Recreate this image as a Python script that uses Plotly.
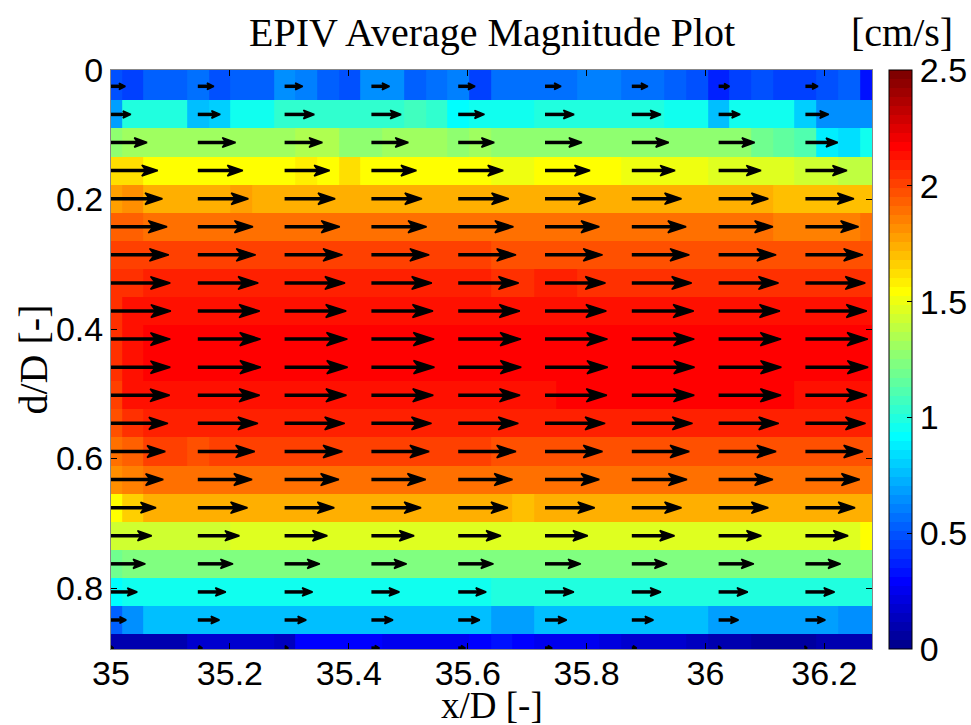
import numpy as np
import plotly.graph_objects as go

# ---------------- data ----------------
X_GRID = [35.0000, 35.0365, 35.0730, 35.1095, 35.1460, 35.1825, 35.2190, 35.2555, 35.2920,
          35.3285, 35.3650, 35.4015, 35.4380, 35.4745, 35.5110, 35.5475, 35.5840, 35.6205,
          35.6570, 35.6935, 35.7300, 35.7665, 35.8030, 35.8395, 35.8760, 35.9125, 35.9490,
          35.9855, 36.0220, 36.0585, 36.0950, 36.1315, 36.1680, 36.2045, 36.2410, 36.2775]

Y_GRID = [0.0252, 0.0686, 0.1119, 0.1553, 0.1987, 0.2420, 0.2854, 0.3288, 0.3722, 0.4155,
          0.4589, 0.5023, 0.5456, 0.5890, 0.6324, 0.6758, 0.7191, 0.7625, 0.8059, 0.8492, 0.8926]

MAG = [
 [0.50,0.44,0.53,0.53,0.56,0.50,0.53,0.53,0.63,0.59,0.53,0.50,0.63,0.63,0.53,0.56,0.59,0.44,
  0.56,0.56,0.56,0.56,0.59,0.59,0.56,0.56,0.53,0.50,0.38,0.44,0.50,0.44,0.44,0.50,0.53,0.34],
 [0.69,1.00,1.00,1.00,0.78,0.81,0.94,0.94,1.03,1.03,1.03,1.03,1.03,1.03,1.09,1.03,0.91,0.94,
  0.94,0.97,1.01,1.01,1.01,1.01,1.01,1.00,0.97,0.94,0.75,0.94,0.94,0.94,0.81,0.66,0.66,0.66],
 [1.25,1.31,1.31,1.31,1.31,1.31,1.31,1.31,1.31,1.34,1.34,1.28,1.28,1.31,1.31,1.31,1.25,1.31,
  1.28,1.28,1.28,1.28,1.28,1.28,1.28,1.28,1.28,1.25,1.25,1.25,1.20,1.16,1.12,0.86,0.84,0.94],
 [1.62,1.62,1.56,1.56,1.56,1.56,1.56,1.56,1.56,1.59,1.56,1.62,1.56,1.56,1.56,1.56,1.56,1.56,
  1.50,1.50,1.56,1.56,1.56,1.53,1.50,1.50,1.50,1.50,1.47,1.47,1.47,1.47,1.44,1.41,1.38,1.38],
 [1.78,1.81,1.75,1.75,1.75,1.75,1.78,1.75,1.75,1.75,1.75,1.75,1.75,1.75,1.75,1.75,1.75,1.75,
  1.75,1.75,1.75,1.72,1.72,1.72,1.72,1.72,1.72,1.72,1.72,1.72,1.72,1.68,1.68,1.68,1.68,1.68],
 [1.94,1.94,1.91,1.91,1.91,1.91,1.91,1.91,1.91,1.91,1.91,1.91,1.91,1.91,1.91,1.91,1.91,1.91,
  1.88,1.88,1.88,1.88,1.88,1.88,1.88,1.88,1.88,1.88,1.88,1.88,1.88,1.84,1.84,1.84,1.84,1.91],
 [2.00,2.03,2.00,2.00,2.00,2.00,2.00,2.00,2.00,2.00,2.00,2.00,2.00,2.00,2.00,2.00,2.00,2.00,
  1.99,1.99,1.99,1.99,1.99,1.99,1.99,1.99,1.99,1.99,1.99,1.99,1.99,1.99,1.99,1.97,1.97,1.99],
 [2.05,2.07,2.09,2.09,2.09,2.09,2.09,2.09,2.09,2.09,2.09,2.09,2.09,2.09,2.09,2.09,2.09,2.09,
  2.07,2.07,2.09,2.09,2.07,2.07,2.07,2.07,2.07,2.07,2.07,2.07,2.07,2.07,2.07,2.07,2.07,2.07],
 [2.07,2.11,2.14,2.14,2.14,2.14,2.13,2.13,2.13,2.13,2.13,2.13,2.13,2.13,2.13,2.13,2.13,2.13,
  2.12,2.12,2.12,2.14,2.14,2.14,2.14,2.12,2.12,2.12,2.12,2.12,2.12,2.12,2.12,2.12,2.12,2.12],
 [2.05,2.13,2.17,2.17,2.17,2.17,2.17,2.17,2.17,2.17,2.17,2.17,2.17,2.17,2.17,2.17,2.17,2.17,
  2.16,2.16,2.16,2.17,2.17,2.17,2.16,2.16,2.16,2.16,2.16,2.16,2.16,2.16,2.16,2.16,2.16,2.16],
 [2.05,2.13,2.18,2.18,2.18,2.18,2.18,2.18,2.18,2.18,2.18,2.18,2.18,2.18,2.18,2.18,2.18,2.18,
  2.17,2.17,2.17,2.17,2.17,2.17,2.17,2.17,2.17,2.17,2.17,2.17,2.17,2.17,2.17,2.17,2.17,2.17],
 [2.03,2.11,2.14,2.14,2.14,2.14,2.14,2.14,2.14,2.14,2.14,2.14,2.14,2.14,2.14,2.14,2.14,2.14,
  2.14,2.14,2.14,2.16,2.16,2.16,2.16,2.16,2.16,2.16,2.16,2.16,2.16,2.16,2.13,2.13,2.13,2.13],
 [1.97,2.05,2.08,2.08,2.08,2.08,2.08,2.08,2.08,2.08,2.08,2.08,2.08,2.08,2.08,2.08,2.08,2.08,
  2.08,2.08,2.08,2.08,2.10,2.10,2.10,2.08,2.08,2.08,2.08,2.08,2.08,2.08,2.08,2.08,2.08,2.08],
 [1.88,1.94,2.00,2.00,1.97,2.00,2.00,2.00,2.00,2.00,2.00,2.00,2.00,2.00,2.00,2.00,2.00,2.00,
  1.99,1.99,1.99,1.99,1.99,1.99,1.99,1.99,1.99,1.99,1.99,1.99,1.99,1.99,1.99,1.99,1.99,1.99],
 [1.81,1.84,1.88,1.88,1.88,1.88,1.88,1.88,1.88,1.88,1.88,1.88,1.88,1.88,1.88,1.88,1.88,1.88,
  1.88,1.88,1.88,1.88,1.88,1.88,1.91,1.88,1.88,1.88,1.88,1.88,1.88,1.88,1.88,1.88,1.88,1.88],
 [1.56,1.66,1.72,1.72,1.72,1.72,1.72,1.72,1.72,1.72,1.72,1.72,1.72,1.72,1.72,1.72,1.72,1.72,
  1.72,1.69,1.72,1.72,1.72,1.72,1.72,1.72,1.72,1.72,1.72,1.72,1.72,1.72,1.72,1.72,1.72,1.72],
 [1.41,1.44,1.44,1.44,1.44,1.44,1.48,1.48,1.48,1.48,1.48,1.48,1.48,1.48,1.48,1.48,1.48,1.48,
  1.48,1.48,1.48,1.48,1.48,1.48,1.48,1.48,1.48,1.48,1.48,1.48,1.48,1.48,1.48,1.48,1.48,1.53],
 [1.19,1.22,1.22,1.22,1.22,1.22,1.22,1.22,1.22,1.22,1.22,1.22,1.22,1.22,1.22,1.22,1.22,1.22,
  1.24,1.24,1.24,1.24,1.22,1.22,1.22,1.22,1.22,1.22,1.22,1.22,1.22,1.22,1.22,1.22,1.22,1.22],
 [0.91,0.97,0.97,0.97,0.97,0.97,0.97,0.97,0.97,0.97,0.97,0.97,0.97,0.97,0.97,0.97,0.97,0.97,
  1.00,1.00,1.00,1.00,1.01,1.01,1.01,1.01,1.01,1.01,1.01,1.01,1.01,1.01,1.01,1.01,1.01,1.01],
 [0.53,0.66,0.75,0.75,0.75,0.75,0.75,0.75,0.75,0.75,0.75,0.75,0.75,0.75,0.75,0.75,0.75,0.75,
  0.69,0.69,0.75,0.75,0.75,0.75,0.75,0.75,0.75,0.75,0.69,0.69,0.69,0.69,0.69,0.69,0.66,0.63],
 [0.09,0.09,0.09,0.09,0.16,0.16,0.16,0.16,0.13,0.28,0.28,0.28,0.28,0.25,0.25,0.25,0.25,0.31,
  0.33,0.28,0.25,0.25,0.25,0.22,0.17,0.17,0.17,0.14,0.09,0.09,0.06,0.06,0.06,0.09,0.09,0.09],
]

ARROW_COLS = [0, 4, 8, 12, 16, 20, 24, 28, 32]   # quiver drawn on every 4th grid column

X_TICKS = [35.0, 35.2, 35.4, 35.6, 35.8, 36.0, 36.2]
X_TICK_TEXT = ["35", "35.2", "35.4", "35.6", "35.8", "36", "36.2"]
Y_TICKS = [0.0, 0.2, 0.4, 0.6, 0.8]
Y_TICK_TEXT = ["0", "0.2", "0.4", "0.6", "0.8"]
C_TICKS = [0, 0.5, 1, 1.5, 2, 2.5]
C_TICK_TEXT = ["0", "0.5", "1", "1.5", "2", "2.5"]

# ---------------- style helpers ----------------
def matlab_jet(m=64):
    n = int(np.ceil(m / 4))
    u = np.concatenate([np.arange(1, n + 1) / n, np.ones(n - 1), np.arange(n, 0, -1) / n])
    g = int(np.ceil(n / 2)) - (1 if m % 4 == 1 else 0) + np.arange(1, len(u) + 1)
    r = g + n
    b = g - n
    J = np.zeros((m, 3))
    for ch, idxs in enumerate([r, g, b]):
        for idx, val in zip(idxs, u):
            if 1 <= idx <= m:
                J[idx - 1, ch] = val
    return J

J = matlab_jet(64)
colorscale = []
for i, c in enumerate(J):
    col = "rgb(%d,%d,%d)" % tuple(int(round(v * 255)) for v in c)
    colorscale.append([i / 64, col])
    colorscale.append([(i + 1) / 64, col])

# y cell edges (first edge clamped at 0)
yc = np.array(Y_GRID)
mids = (yc[:-1] + yc[1:]) / 2
y_edges = np.concatenate([[0.0], mids, [yc[-1] + (yc[-1] - yc[-2]) / 2]])

# pixel sizes of one data unit (plot area 761 x 579 px)
PX_X = 761 / 1.28
PX_Y = 579 / 0.894

# quiver geometry
SCALE = 0.0487               # x/D per cm/s
shaft_x, shaft_y, head_x, head_y = [], [], [], []
for i, yv in enumerate(Y_GRID):
    for k in ARROW_COLS:
        x0 = X_GRID[k]
        L = MAG[i][k] * SCALE
        Lpx = L * PX_X
        hb = (0.30 * Lpx + 2.0) / PX_X
        hw = (0.07 * Lpx + 2.2) / PX_Y
        x1 = x0 + L
        shaft_x += [x0, x1 - 0.5 * hb, None]
        shaft_y += [yv, yv, None]
        head_x += [x1, x1 - hb, x1 - 0.75 * hb, x1 - hb, x1, None]
        head_y += [yv, yv - hw, yv, yv + hw, yv, None]

fig = go.Figure()
fig.add_trace(go.Heatmap(
    x=X_GRID, y=y_edges, z=MAG,
    colorscale=colorscale, zmin=0, zmax=2.5, zsmooth=False,
    colorbar=dict(
        x=(889 - 111) / 761, xanchor="left", xpad=0,
        y=0.5, yanchor="middle", ypad=0, len=1, lenmode="fraction",
        thickness=23, outlinewidth=1, outlinecolor="black",
        tickvals=C_TICKS, ticktext=C_TICK_TEXT, ticks="inside", ticklen=5,
        tickcolor="black",
        tickfont=dict(family="Liberation Sans, Arial", size=34, color="black"),
    ),
    hoverinfo="skip",
))
fig.add_trace(go.Scatter(
    x=shaft_x, y=shaft_y, mode="lines",
    line=dict(color="black", width=3.5),
    hoverinfo="skip", showlegend=False,
))
fig.add_trace(go.Scatter(
    x=head_x, y=head_y, mode="lines", fill="toself", fillcolor="black",
    line=dict(color="black", width=1.5),
    hoverinfo="skip", showlegend=False,
))

tick_font = dict(family="Liberation Sans, Arial", size=34, color="black")
serif = dict(family="Liberation Serif, Times New Roman", size=40, color="black")
serif_small = dict(family="Liberation Serif, Times New Roman", size=37, color="black")

fig.update_layout(
    width=971, height=725,
    margin=dict(l=111, r=99, t=70, b=76, autoexpand=False),
    paper_bgcolor="white", plot_bgcolor="white",
    showlegend=False,
    xaxis=dict(
        range=[35, 36.28], tickvals=X_TICKS, ticktext=X_TICK_TEXT,
        ticks="inside", ticklen=6, tickcolor="black",
        showline=True, linecolor="#888888", linewidth=1, mirror="ticks",
        showgrid=False, zeroline=False, tickfont=tick_font, automargin=False,
        ticklabelstandoff=-6,
    ),
    yaxis=dict(
        range=[0.894, 0], tickvals=Y_TICKS, ticktext=Y_TICK_TEXT,
        ticks="inside", ticklen=6, tickcolor="black",
        showline=True, linecolor="#888888", linewidth=1, mirror="ticks",
        showgrid=False, zeroline=False, tickfont=tick_font, automargin=False,
    ),
    annotations=[
        dict(text="EPIV Average Magnitude Plot", x=0.5, y=(649 - 32) / 579,
             xref="paper", yref="paper", showarrow=False, font=serif,
             xanchor="center", yanchor="middle"),
        dict(text="[cm/s]", x=(902 - 111) / 761, y=(649 - 32) / 579,
             xref="paper", yref="paper", showarrow=False, font=serif,
             xanchor="center", yanchor="middle"),
        dict(text="d/D [-]", x=(33 - 111) / 761, y=0.5, textangle=-90,
             xref="paper", yref="paper", showarrow=False, font=serif,
             xanchor="center", yanchor="middle"),
        dict(text="x/D [-]", x=0.5, y=(649 - 705) / 579,
             xref="paper", yref="paper", showarrow=False, font=serif_small,
             xanchor="center", yanchor="middle"),
    ],
)

# remove the browser's default 8 px body margin so the figure fills the window exactly
fig.write_html(
    "out.html",
    config={"displayModeBar": False},
    post_script="document.body.style.margin='0';document.body.style.overflow='hidden';",
)
